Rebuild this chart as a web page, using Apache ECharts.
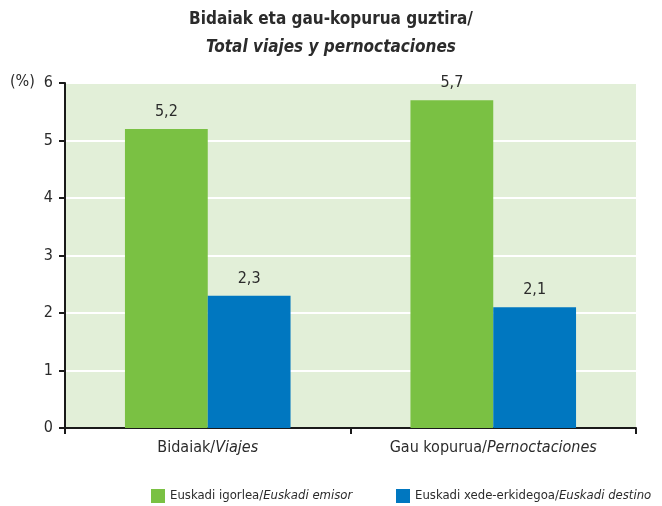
<!DOCTYPE html>
<html>
<head>
<meta charset="utf-8">
<script src="https://cdn.jsdelivr.net/npm/echarts@6/dist/echarts.min.js"></script>
<style>
  html, body { margin: 0; padding: 0; background: #fff; }
  #chart { width: 662px; height: 506px; }
</style>
</head>
<body>
<div id="chart"></div>
<script>
// Categories (Basque / Spanish parts)
const categoriesEu = ['Bidaiak', 'Gau kopurua'];
const categoriesEs = ['Viajes', 'Pernoctaciones'];
// Series names (Basque / Spanish parts)
const seriesEu = ['Euskadi igorlea', 'Euskadi xede-erkidegoa'];
const seriesEs = ['Euskadi emisor', 'Euskadi destino'];
// Values (%)
const emisorValues = [5.2, 5.7];
const destinoValues = [2.3, 2.1];
// Y axis ticks
const yTicks = [0, 1, 2, 3, 4, 5, 6];

const FONT = '"Liberation Sans Narrow", "DejaVu Sans Condensed", "Roboto", sans-serif';
const TEXT = '#2b2b2b';
const GREEN = '#7ac143';
const BLUE = '#0077c0';

const categories = categoriesEu.map((c, i) => c + '|' + categoriesEs[i]);
const seriesNames = seriesEu.map((s, i) => s + '|' + seriesEs[i]);

function fmtComma(v) { return String(v).replace('.', ','); }
function splitItalic(name) {
  const [eu, es] = name.split('|');
  return eu + '/{i|' + es + '}';
}

const chart = echarts.init(document.getElementById('chart'), null, { renderer: 'canvas' });

const labelCfg = {
  show: true,
  position: 'top',
  distance: 9,
  color: TEXT,
  fontFamily: FONT,
  fontSize: 16,
  formatter: p => fmtComma(p.value)
};

const legendText = {
  fontFamily: FONT, fontSize: 13, color: TEXT,
  rich: { i: { fontFamily: FONT, fontSize: 13, fontStyle: 'italic', color: TEXT } }
};

function legendFor(idx, left) {
  return {
    top: 484,
    left: left,
    itemWidth: 14,
    itemHeight: 14,
    itemGap: 10,
    icon: 'rect',
    data: [seriesNames[idx]],
    formatter: splitItalic,
    textStyle: legendText
  };
}

chart.setOption({
  animation: false,
  textStyle: { fontFamily: FONT },
  title: {
    text: 'Bidaiak eta gau-kopurua guztira/',
    subtext: 'Total viajes y pernoctaciones',
    left: 'center',
    top: 6,
    itemGap: 11,
    textStyle: { fontFamily: FONT, fontSize: 17, fontWeight: 'bold', color: TEXT },
    subtextStyle: { fontFamily: FONT, fontSize: 17, fontWeight: 'bold', fontStyle: 'italic', color: TEXT }
  },
  grid: { left: 65, right: 26, top: 83, bottom: 78, containLabel: false },
  graphic: [{
    type: 'text',
    left: 10,
    top: 74,
    style: { text: '(%)', fill: TEXT, font: '16px ' + FONT }
  }],
  legend: [legendFor(0, 146), legendFor(1, 391)],
  xAxis: {
    type: 'category',
    data: categories,
    axisLine: { lineStyle: { color: '#1a1a1a', width: 2 } },
    axisTick: { show: true, length: 6, lineStyle: { color: '#1a1a1a', width: 2 } },
    axisLabel: {
      interval: 0,
      margin: 12,
      formatter: splitItalic,
      color: TEXT,
      fontFamily: FONT,
      fontSize: 16,
      rich: { i: { fontFamily: FONT, fontSize: 16, fontStyle: 'italic', color: TEXT } }
    }
  },
  yAxis: {
    type: 'value',
    min: yTicks[0],
    max: yTicks[yTicks.length - 1],
    interval: 1,
    axisLine: { show: true, lineStyle: { color: '#1a1a1a', width: 2 } },
    axisTick: { show: true, length: 6, lineStyle: { color: '#1a1a1a', width: 2 } },
    axisLabel: { margin: 12, color: TEXT, fontFamily: FONT, fontSize: 16 },
    splitLine: { show: true, lineStyle: { color: '#ffffff', width: 2 } },
    splitArea: { show: true, areaStyle: { color: ['#e2efd8'] } }
  },
  series: [
    {
      name: seriesNames[0],
      type: 'bar',
      data: emisorValues,
      barGap: '0%',
      barCategoryGap: '42%',
      itemStyle: { color: GREEN },
      label: labelCfg
    },
    {
      name: seriesNames[1],
      type: 'bar',
      data: destinoValues,
      itemStyle: { color: BLUE },
      label: labelCfg
    }
  ]
});
</script>
</body>
</html>
